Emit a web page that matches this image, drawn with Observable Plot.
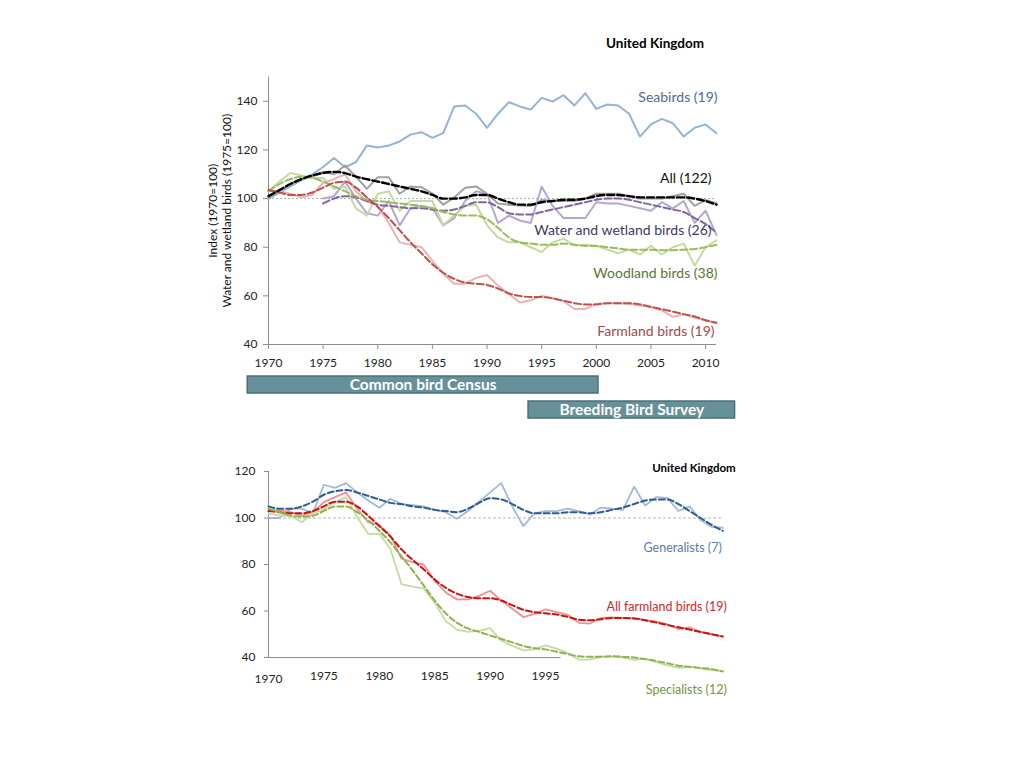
<!DOCTYPE html>
<html>
<head>
<meta charset="utf-8">
<script src="https://cdn.jsdelivr.net/npm/d3@7"></script>
<script src="https://cdn.jsdelivr.net/npm/@observablehq/plot@0.6"></script>
<style>
  html, body { margin: 0; padding: 0; background: #fff; }
  #wrap { position: relative; width: 1024px; height: 768px; overflow: hidden; font-family: Lato, "Open Sans", sans-serif; }
  #wrap svg { position: absolute; left: 0; overflow: visible; max-width: none; }
  .ttl { position: absolute; font-weight: bold; color: #000; text-align: center; white-space: nowrap; }
</style>
</head>
<body>
<div id="wrap">
  <div class="ttl" style="left:555px; top:35px; width:200px; font-size:13.5px;">United Kingdom</div>
  <div class="ttl" style="left:594px; top:461px; width:200px; font-size:11.5px;">United Kingdom</div>
</div>
<script>
// ---------- data ----------
const years = [1970,1971,1972,1973,1974,1975,1976,1977,1978,1979,
               1980,1981,1982,1983,1984,1985,1986,1987,1988,1989,
               1990,1991,1992,1993,1994,1995,1996,1997,1998,1999,
               2000,2001,2002,2003,2004,2005,2006,2007,2008,2009,
               2010,2011];

// Top panel
const seabirds = [100,102.5,105,107.5,110,113,116.7,112.9,115,121.8,
                  121,121.8,123.5,126.3,127.3,125,127,137.9,138.3,134.9,
                  129.1,134.9,139.6,137.9,136.6,141.4,139.9,142.5,138.3,143.3,
                  136.9,138.7,138.3,134.9,125.5,130.5,132.8,131,125.5,129.1,
                  130.5,126.9];
const allSolid = [100,103,106,108,109,111,110,113.6,109,104,
                  108.8,108.8,102,105,104.7,102,97.5,100.5,104.5,105,
                  102,98,97.5,97.2,97,99.4,99,99,99,100,
                  102,102,102,101,100,100,100,101,102,97,
                  99.4,98];
const allSmooth = [101,103.5,106,108,109.5,110.5,111,110.5,109,108,
                   107,106,105,104,103,101.5,100,100,100.5,101.5,
                   101.5,100,98.5,97.5,97.5,98.5,99,99.5,99.5,100,
                   101,101.5,101.5,101,100.5,100.5,100.5,100.5,100.5,100,
                   99,97.5];
const waterSolid = [null,null,null,null,null,100,101,107,100,94,
                    93,99,89,96,97,96,89,92,99,103,
                    102,90,93,91,90,105,97,92,92,92,
                    98.5,98,98,97,96,95,98.5,96,99,90,
                    95,85];
const waterSmooth = [null,null,null,null,null,98,100,101,100.5,99,
                     97.5,97,96.5,96,96,95.5,95,95.5,97,98.5,
                     98.5,96.5,94,93.5,93.5,94.5,95.5,96.5,97.5,98.5,
                     99.5,100,100,99.5,98.5,97.5,96.5,95.5,94.5,92,
                     89.5,86];
const woodSolid = [103,107,110.5,109.5,108.5,108.5,104,105,96,93,
                   102,103,95,99,99,99,89,93,97,97.5,
                   89,84,82,82,80,78,82,83.5,80.8,81,
                   80.6,79,77.5,79,77,80.6,77,80,81.5,72.4,
                   80,82.8];
const woodSmooth = [103,106,108,109,108.5,107,105,103,101,99.5,
                    99,98.5,98,97.5,97,96,94.5,93.5,93,93,
                    91.5,88,84,82,81.5,81,81,81.5,81,80.5,
                    80.5,80,79.5,79,79,79,78.8,78.8,79,79.3,
                    80,81];
const farmSolid = [103,103,102,100.5,101.5,106.5,108,110,103,99,
                   97,90,82,81,80,74.5,69,65,65,67.4,
                   68.6,64.2,60.8,57.3,58.2,60,59,57.8,54.6,54.6,
                   56.8,57,57,56.8,56,55.3,54,51.4,52.3,51,
                   50,48.7];
const farmSmooth = [103.5,102.5,101.5,101.5,102.5,104.5,106.5,107,104.5,100.5,
                    96.5,92,87,82,77.5,73,69.5,67,65.5,65,
                    64.5,63,61,60,59.5,59.5,59,58,57,56.5,
                    56.5,57,57,57,56.5,55.5,54.5,53.5,52.5,51.5,
                    50,49];

// Bottom panel
const genSolid = [100,100,104,104,102,114.3,113,115,111,107.5,
                  104.4,108.3,106,105.5,105,103.5,102.5,99.7,103,107,
                  111,115,105,96.5,102,103,103,104,103,101.5,
                  104.5,104,103.5,113.5,105.4,109,108.6,103,105,99,
                  96.2,95.8];
const genSmooth = [105,104,104,105,107,110,111.5,112,111,109.5,
                   108,106.5,106,105,104.5,103.5,103,102.5,104,106.5,
                   108.5,108,106,103.5,102,102,102,102.5,102.5,102,
                   102.5,103.5,104.5,106,107.5,108,108,106,103,100,
                   97,94.5];
const farmAllSolid = [103,103.5,102.5,101,102.5,106.8,109,111,104,98.2,
                      97,92.5,82.5,81,80,73,68,65,65,66.5,
                      68.7,64.5,61,57.4,58.8,60.7,59.5,58.4,54.9,54.6,
                      57,57.2,57,56.8,56.1,55.4,54.2,52.2,53,51,
                      50,49];
const farmAllSmooth = [103,102.5,102,102,103,105,107,107,105,101,
                       96.5,92,86.5,82,78,73.5,70,67.5,66,65.5,
                       65.5,64.5,62.5,60.5,59.5,59,58.5,57.5,56.3,56,
                       56.5,57,57,56.8,56,55,54,53,52,51,
                       50,49];
const specSolid = [102,101,101,98.2,102,103.8,106.8,109,100.4,93.2,
                   93.2,86.7,71.6,70.5,69.7,63.6,55.7,52,51,51.5,
                   52.6,47.3,45,43.1,43.5,45.2,43.8,41.9,39.1,39.1,
                   40.4,40.4,40,39,39.4,38,36.6,35.6,36,35.3,
                   34.6,34];
const specSmooth = [104,102.5,101,100.5,101,103,105,105,102.5,99,
                    94.5,89.5,83.5,77.5,71,64.5,59,55,52.5,51,
                    49.5,48,46.5,45,44,43.5,42.5,41.5,40.5,40.3,
                    40.3,40.5,40.3,40,39.3,38.5,37.5,36.5,36,35.5,
                    35,34];

// tick labels
const topYTicks = [40,60,80,100,120,140];
const topXTicks = [1970,1975,1980,1985,1990,1995,2000,2005,2010];
const botYTicks = [40,60,80,100,120];
const botXTicks = [1975,1980,1985,1990,1995];

// series labels
const topLabels = ["Seabirds (19)","All (122)","Water and wetland birds (26)","Woodland birds (38)","Farmland birds (19)"];
const topLabelY = [141.6,108.2,86.8,69,45.3];
const topLabelShift = [1,-5,-5,1,-2];
const botLabels = ["Generalists (7)","All farmland birds (19)","Specialists (12)"];
const botLabelY = [87.3,61.9,26.2];
const botLabelShift = [-1,4,4];

// survey periods
const surveys = ["Common bird Census","Breeding Bird Survey"];
const surveyFrom = [1968.1,1993.8];
const surveyTo = [2000.2,2012.7];

// ---------- helpers ----------
const ser = vals => years.map((y,i)=>({year:y, value:vals[i]})).filter(d=>d.value!=null);
const wrapEl = document.getElementById("wrap");
function place(svg, t){ svg.style.top = t + "px"; wrapEl.appendChild(svg); }
const fontStyle = {fontFamily:"Lato, 'Open Sans', sans-serif", fontSize:"12px", background:"transparent", color:"#222"};
const SW = 2, DASH = "7,3";

// ---------- top chart ----------
const topSolidSpec = [
  [seabirds,"#95b3d7"],[allSolid,"#a0a0a0"],[waterSolid,"#b3a8cf"],[woodSolid,"#c6da9f"],[farmSolid,"#e8b4b4"]
];
const topDashSpec = [
  [waterSmooth,"#8064a2",2],[woodSmooth,"#9bbb59",2],[farmSmooth,"#c0504d",2],[allSmooth,"#000000",2.4]
];
const topColors = ["#4f6b8f","#111111","#3f3a5c","#5d7534","#a24a4a"];

const topChart = Plot.plot({
  width:1024, height:380, marginLeft:268, marginRight:308, marginTop:76.5, marginBottom:36,
  style: fontStyle,
  x:{domain:[1970,2011]}, y:{domain:[40,150]},
  marks:[
    Plot.ruleY([100],{stroke:"#888", strokeWidth:0.7, strokeDasharray:"2,2"}),
    Plot.ruleX([1970],{y1:40, y2:150, stroke:"#8c8c8c"}),
    Plot.ruleY([40],{x1:1970, x2:2011, stroke:"#8c8c8c"}),
    Plot.axisY({ticks:topYTicks, tickSize:5, tickPadding:6, stroke:"#8c8c8c", fill:"#222", label:null}),
    Plot.axisX({ticks:topXTicks, tickSize:5, tickPadding:9, stroke:"#8c8c8c", fill:"#222", label:null, tickFormat:d=>String(d)}),
    ...topSolidSpec.map(([v,c])=>Plot.line(ser(v),{x:"year", y:"value", stroke:c, strokeWidth:SW})),
    ...topDashSpec.map(([v,c,w])=>Plot.line(ser(v),{x:"year", y:"value", stroke:c, strokeWidth:w, strokeDasharray:DASH, curve:"monotone-x"})),
    ...topLabels.map((t,i)=>Plot.text([t],
      {x:2011, y:topLabelY[i], text:d=>d, fill:topColors[i], textAnchor:"end", dx:topLabelShift[i], fontSize:14})),
    Plot.text(["Index (1970=100)\nWater and wetland birds (1975=100)"],
      {frameAnchor:"left", textAnchor:"middle", rotate:-90, dx:-49, fontSize:12, lineHeight:1.15, fill:"#111"})
  ]
});
place(topChart, 0);

// ---------- survey bars ----------
const barsChart = Plot.plot({
  width:1024, height:70, marginLeft:268, marginRight:308, marginTop:12, marginBottom:8,
  style: fontStyle,
  x:{domain:[1970,2011], axis:null},
  y:{domain:surveys, axis:null, paddingInner:0.32, paddingOuter:0.16},
  marks:[
    Plot.barX(surveys.map((s,i)=>({s, a:surveyFrom[i], b:surveyTo[i]})),
      {x1:"a", x2:"b", y:"s", fill:"#66909a", stroke:"#4a7076", strokeWidth:1.5}),
    Plot.text(surveys.map((s,i)=>({s, m:(surveyFrom[i]+surveyTo[i])/2})),
      {x:"m", y:"s", text:"s", fill:"white", fontWeight:"bold", fontSize:15.5})
  ]
});
place(barsChart, 360);

// ---------- bottom chart ----------
const botSolidSpec = [[genSolid,"#9fb9dc"],[farmAllSolid,"#f09090"],[specSolid,"#c6da9f"]];
const botDashSpec = [[genSmooth,"#2f5c8f"],[farmAllSmooth,"#cc1111"],[specSmooth,"#8fb350"]];
const botColors = ["#5a7bab","#d02828","#77933c"];

const bottomChart = Plot.plot({
  width:1024, height:260, marginLeft:268, marginRight:301.7, marginTop:31, marginBottom:43,
  style: fontStyle,
  x:{domain:[1970,2011]}, y:{domain:[40,120]},
  marks:[
    Plot.ruleY([100],{stroke:"#999", strokeWidth:0.7, strokeDasharray:"3,2"}),
    Plot.ruleX([1970],{y1:40, y2:120, stroke:"#8c8c8c"}),
    Plot.ruleY([40],{x1:1970, x2:1996.4, stroke:"#8c8c8c"}),
    Plot.axisY({ticks:botYTicks, tickSize:4, tickPadding:9, stroke:"#8c8c8c", fill:"#222", label:null}),
    Plot.axisX({ticks:botXTicks, tickSize:0, tickPadding:14, fill:"#222", label:null, tickFormat:d=>String(d)}),
    Plot.axisX({ticks:[1970], tickSize:0, tickPadding:17, fill:"#222", label:null, tickFormat:d=>String(d)}),
    ...botSolidSpec.map(([v,c])=>Plot.line(ser(v),{x:"year", y:"value", stroke:c, strokeWidth:1.8})),
    ...botDashSpec.map(([v,c])=>Plot.line(ser(v),{x:"year", y:"value", stroke:c, strokeWidth:2, strokeDasharray:"6,3", curve:"monotone-x"})),
    ...botLabels.map((t,i)=>Plot.text([t],
      {x:2011, y:botLabelY[i], text:d=>d, fill:botColors[i], textAnchor:"end", dx:botLabelShift[i], fontSize:12.5, letterSpacing:i===0?"0.6px":null}))
  ]
});
place(bottomChart, 440);
</script>
</body>
</html>
